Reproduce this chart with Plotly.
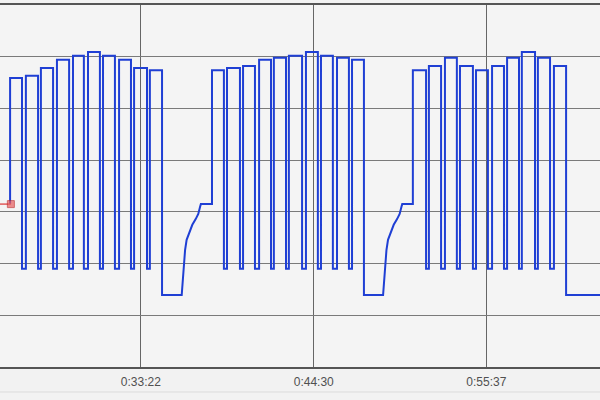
import plotly.graph_objects as go

# ---- data (time in seconds, level in grid units) ----
x_range = [1458, 3776]
tick_seconds = [2002, 2670, 3337]
tick_labels = ["0:33:22", "0:44:30", "0:55:37"]

start_time = 1500
start_level = 3.15
dip_level = 1.9
rest_level = 1.39

g1_rise = [1497, 1558, 1616, 1678, 1740, 1798, 1856, 1918, 1976, 2037]
g1_fall = [1543, 1605, 1663, 1725, 1782, 1844, 1902, 1964, 2026, 2084]
g1_top = [5.59, 5.63, 5.78, 5.94, 6.02, 6.09, 6.02, 5.94, 5.78, 5.74]

g2_rise = [2277, 2335, 2397, 2459, 2516, 2574, 2640, 2698, 2760, 2818]
g2_fall = [2323, 2385, 2443, 2505, 2563, 2625, 2686, 2744, 2806, 2864]
g2_top = [5.74, 5.78, 5.82, 5.94, 5.98, 6.02, 6.09, 6.02, 5.98, 5.94]

g3_rise = [3053, 3115, 3177, 3235, 3297, 3359, 3417, 3474, 3536, 3598]
g3_fall = [3104, 3162, 3223, 3285, 3343, 3405, 3463, 3525, 3583, 3645]
g3_top = [5.74, 5.82, 5.98, 5.82, 5.74, 5.82, 5.98, 6.09, 5.98, 5.82]

rec1_t = [2160, 2164, 2168, 2173, 2179, 2189, 2201, 2214, 2224, 2231, 2234]
rec2_t = [2938, 2942, 2946, 2951, 2957, 2967, 2979, 2992, 3002, 3009, 3012]
rec_v = [1.39, 1.68, 1.97, 2.26, 2.46, 2.61, 2.75, 2.86, 2.96, 3.10, 3.15]

groups = [
    (g1_rise, g1_fall, g1_top, rec1_t),
    (g2_rise, g2_fall, g2_top, rec2_t),
    (g3_rise, g3_fall, g3_top, None),
]

# ---- build stepped path from data ----
xs, ys = [g1_rise[0]], [start_level]
level = start_level
for rise, fall, top, rec in groups:
    n = len(rise)
    for i in range(n):
        xs += [rise[i], rise[i], fall[i]]
        ys += [level, top[i], top[i]]
        level = dip_level if i < n - 1 else rest_level
        xs.append(fall[i]); ys.append(level)
    if rec is not None:
        xs += rec; ys += rec_v
        level = rec_v[-1]
xs.append(x_range[1] + 50); ys.append(level)

fig = go.Figure()
fig.add_trace(go.Scatter(x=xs, y=ys, mode="lines",
                         line=dict(color="#1f3fd4", width=2),
                         hoverinfo="skip", showlegend=False))
fig.add_trace(go.Scatter(x=[x_range[0] - 20, start_time], y=[start_level, start_level],
                         mode="lines+markers",
                         line=dict(color="#e05a5a", width=1.5),
                         marker=dict(symbol="square", size=[0, 7], color="#e86060",
                                     line=dict(color="#c03030", width=1)),
                         hoverinfo="skip", showlegend=False))

fig.update_layout(
    width=600, height=400,
    margin=dict(l=0, r=0, t=5, b=33),
    paper_bgcolor="#f2f2f2", plot_bgcolor="#f4f4f4",
    xaxis=dict(range=x_range, tickvals=tick_seconds, ticktext=tick_labels,
               showgrid=True, gridcolor="#666666", gridwidth=1,
               showline=True, linecolor="#555555", linewidth=1.5, mirror=True,
               ticks="", zeroline=False, ticklabelstandoff=3,
               tickfont=dict(family="Liberation Sans, Arial", size=12, color="#505050")),
    yaxis=dict(range=[0, 7], dtick=1, tick0=0, showticklabels=False,
               showgrid=True, gridcolor="#7a7a7a", gridwidth=1,
               zeroline=False, showline=False),
    shapes=[dict(type="line", xref="paper", yref="paper", x0=0, x1=1,
                 y0=-0.069, y1=-0.069, line=dict(color="#dcdcdc", width=1))],
)

fig.write_html("out.html", config={"displayModeBar": False},
               post_script="document.body.style.margin='0';document.body.style.overflow='hidden';")
